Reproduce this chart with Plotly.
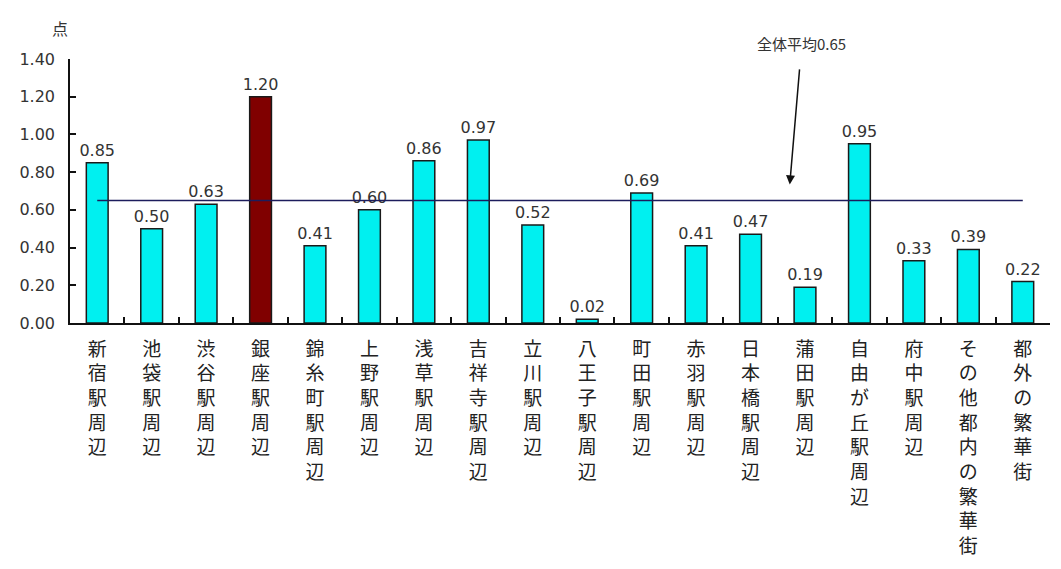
import plotly.graph_objects as go

# 繁華街別の平均点
areas = ["新宿駅周辺", "池袋駅周辺", "渋谷駅周辺", "銀座駅周辺", "錦糸町駅周辺", "上野駅周辺",
         "浅草駅周辺", "吉祥寺駅周辺", "立川駅周辺", "八王子駅周辺", "町田駅周辺", "赤羽駅周辺",
         "日本橋駅周辺", "蒲田駅周辺", "自由が丘駅周辺", "府中駅周辺", "その他都内の繁華街", "都外の繁華街"]
scores = [0.85, 0.50, 0.63, 1.20, 0.41, 0.60, 0.86, 0.97, 0.52, 0.02,
          0.69, 0.41, 0.47, 0.19, 0.95, 0.33, 0.39, 0.22]
overall_mean = 0.65
highlight = "銀座駅周辺"
y_ticks = [0.0, 0.2, 0.4, 0.6, 0.8, 1.0, 1.2, 1.4]

# 縦書きのカテゴリラベル
vertical = ["<br>".join(name) for name in areas]
colors = ["#800000" if a == highlight else "#00F0F0" for a in areas]

NUM_FONT = "DejaVu Sans, Liberation Sans, Arial, sans-serif"
JP_FONT = "Noto Sans CJK JP, sans-serif"

W, H = 1061, 569
M = dict(l=70, r=11, t=59, b=243)
plot_w = W - M["l"] - M["r"]
plot_h = H - M["t"] - M["b"]

fig = go.Figure()
fig.add_trace(go.Bar(
    x=vertical,
    y=scores,
    width=0.4,
    marker=dict(color=colors, line=dict(color="#1a1a1a", width=1.5)),
    text=[f"{v:.2f}" for v in scores],
    textposition="outside",
    constraintext="none",
    textfont=dict(family=NUM_FONT, size=16, color="#333333"),
    cliponaxis=False,
    hoverinfo="skip",
))

# 全体平均の水平線
fig.add_shape(type="line", xref="x", yref="y",
              x0=0, x1=len(areas) - 1, y0=overall_mean, y1=overall_mean,
              line=dict(color="#1c1c5c", width=1.5))

# 全体平均の注記と矢印
fig.add_annotation(
    x=12.72, y=0.735, xref="x", yref="y",
    text=f"全体平均{overall_mean:.2f}",
    showarrow=True, arrowhead=2, arrowsize=1.2, arrowwidth=1.5, arrowcolor="#111111",
    ax=12, ay=-141, startstandoff=14,
    font=dict(family=JP_FONT, size=15, color="#333333"),
)

# 単位「点」
fig.add_annotation(
    x=(60 - M["l"]) / plot_w, y=1 + (M["t"] - 28) / plot_h,
    xref="paper", yref="paper", text="点", showarrow=False,
    xanchor="center", yanchor="middle",
    font=dict(family=JP_FONT, size=16, color="#333333"),
)

fig.update_layout(
    width=W, height=H,
    margin=M,
    paper_bgcolor="white", plot_bgcolor="white",
    showlegend=False,
)

fig.update_xaxes(
    type="category",
    tickson="boundaries",
    ticks="inside", ticklen=6, tickwidth=1.5, tickcolor="#111111",
    showline=True, linecolor="#111111", linewidth=1.5,
    showgrid=False,
    tickangle=0,
    tickfont=dict(family=JP_FONT, size=19, color="#222222"),
    ticklabelstandoff=8,
    range=[-0.5, len(areas) - 0.5],
)
fig.update_yaxes(
    range=[0, 1.4],
    tickvals=y_ticks,
    ticktext=[f"{v:.2f}" for v in y_ticks],
    ticks="inside", ticklen=6, tickwidth=1.5, tickcolor="#111111",
    showline=True, linecolor="#111111", linewidth=1.5,
    showgrid=False, zeroline=False,
    tickfont=dict(family=NUM_FONT, size=16, color="#333333"),
    ticklabelstandoff=10,
)

fig.write_html("out.html")
